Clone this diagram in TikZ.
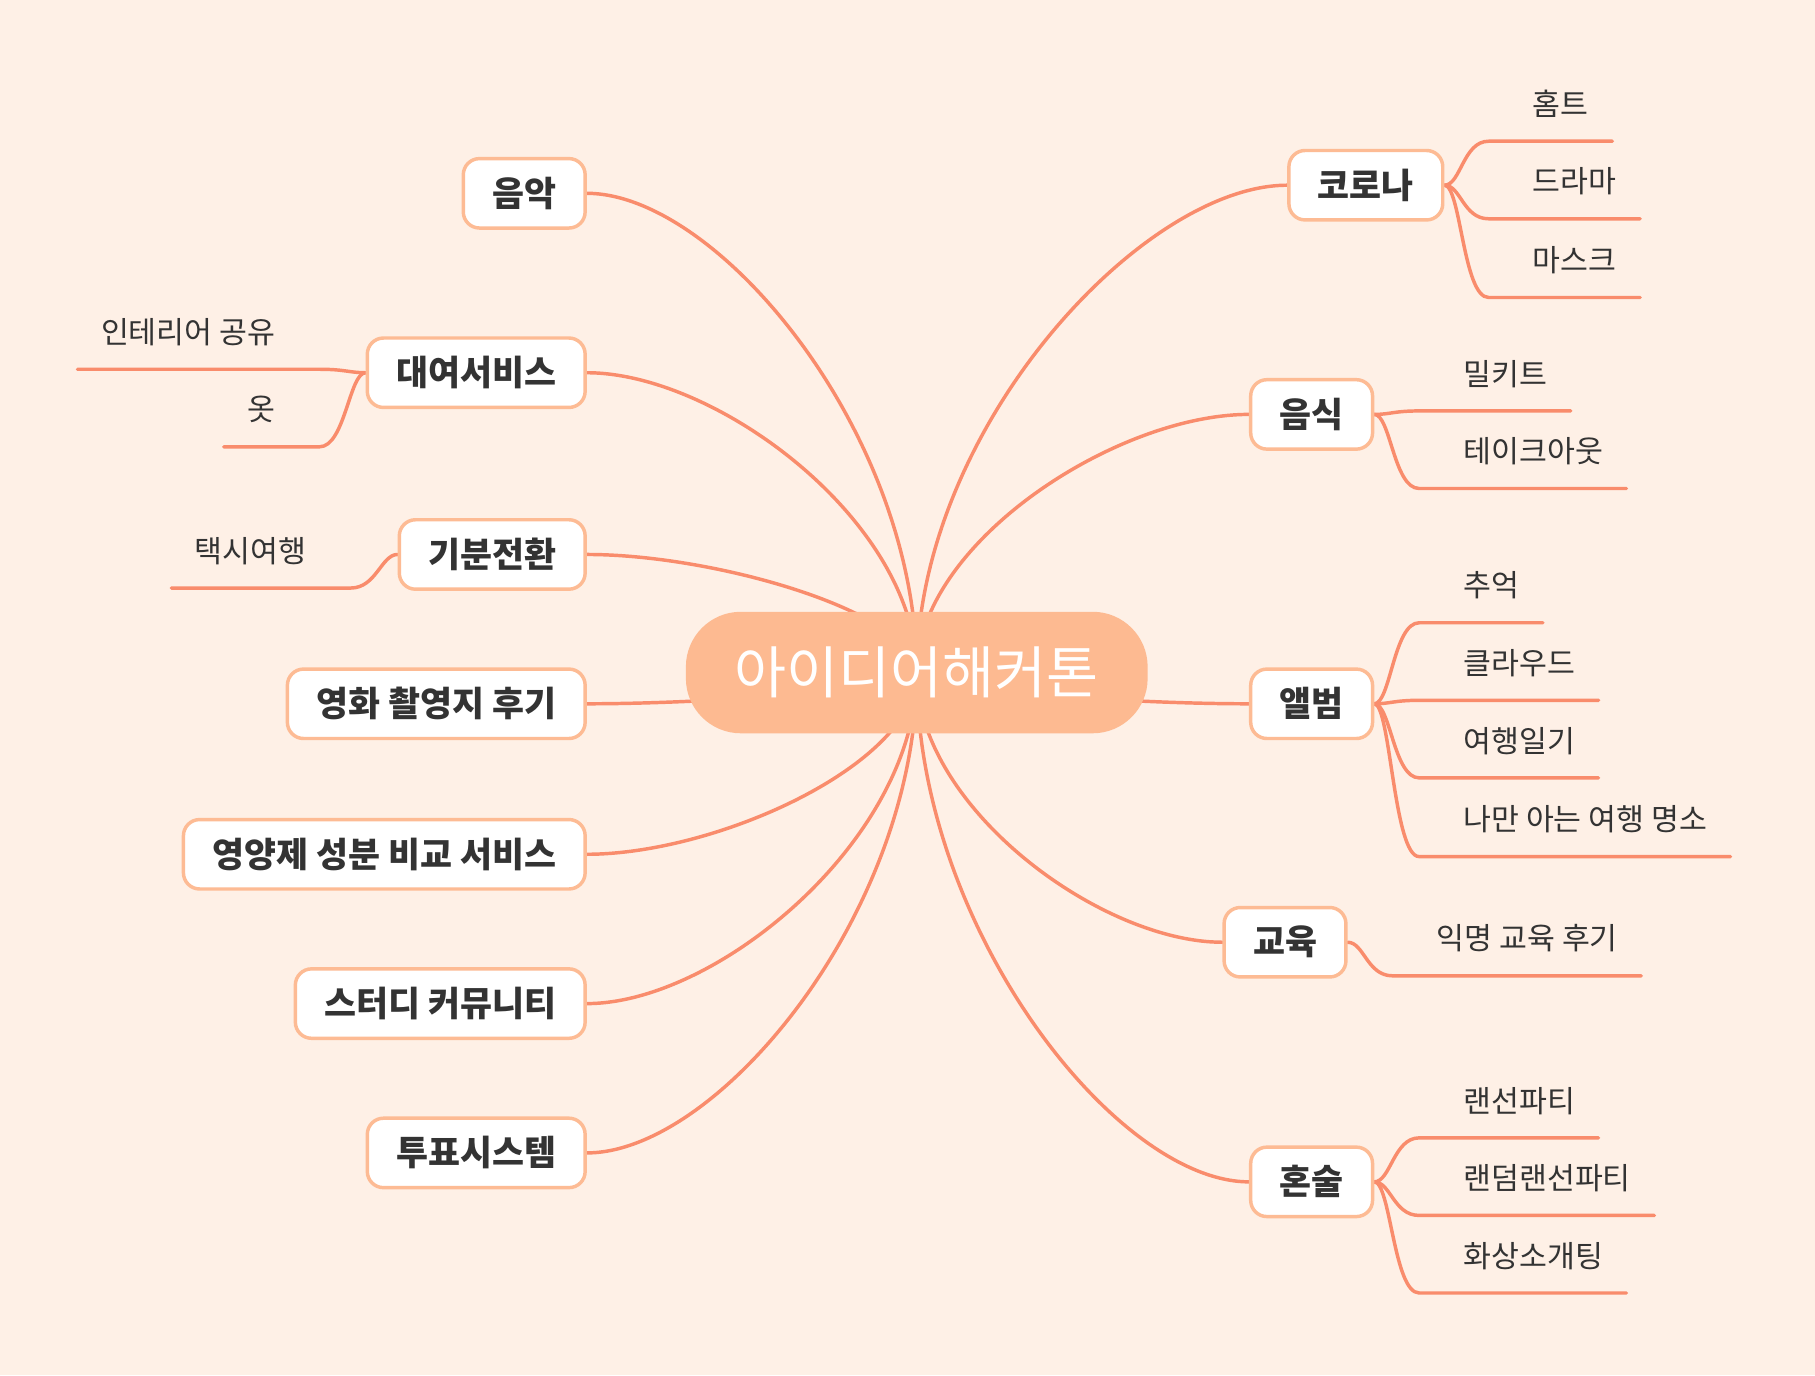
\documentclass[tikz,border=0pt]{standalone}
\usepackage{fontspec}
\newfontfamily\kr{Noto Sans CJK KR}
\usetikzlibrary{calc,backgrounds}
\definecolor{bgcream}{HTML}{FEF0E6}
\definecolor{salmon}{HTML}{F98C6C}
\definecolor{peachline}{HTML}{FDBB94}
\definecolor{hubfill}{HTML}{FDBA91}
\definecolor{inkgray}{HTML}{333333}
\tikzstyle{hub}   = [fill=hubfill, rounded corners=0.95cm, minimum width=7.98cm, minimum height=2.1cm, text=white, font=\kr\fontsize{27.8}{32}\selectfont]
\tikzstyle{topic} = [draw=peachline, line width=1.7pt, fill=white, rounded corners=0.28cm, minimum height=1.2cm, inner xsep=0.5cm, text=inkgray, font=\kr\bfseries\fontsize{17.1}{20}\selectfont]
\tikzstyle{leaf}  = [inner xsep=0.4cm, inner ysep=0.44cm, text height=0.8em, text depth=0pt, text=inkgray, font=\kr\fontsize{14.9}{18}\selectfont]
\tikzstyle{spoke} = [draw=salmon, line width=1.7pt, line cap=round]
\tikzstyle{twig}  = [draw=salmon, line width=1.7pt, line cap=round]

\begin{document}
\begin{tikzpicture}[x=0.02cm, y=-0.02cm]
	\begin{pgfonlayer}{background}
		\fill[bgcream] (0,0) rectangle (1568,1188);
	\end{pgfonlayer}
	\useasboundingbox (0,0) rectangle (1568,1188);

	\node[hub] (hub) at (792,581) {아이디어해커톤};

	% left topics
	\node[topic, anchor=east] (music) at (507,167) {음악};
	\node[topic, anchor=east] (rental) at (507,322) {대여서비스};
	\node[topic, anchor=east] (mood) at (507,479) {기분전환};
	\node[topic, anchor=east] (film) at (507,608) {영화 촬영지 후기};
	\node[topic, anchor=east] (supplement) at (507,738) {영양제 성분 비교 서비스};
	\node[topic, anchor=east] (study) at (507,867) {스터디 커뮤니티};
	\node[topic, anchor=east] (vote) at (507,996) {투표시스템};

	% right topics
	\node[topic, anchor=west] (corona) at (1112,160) {코로나};
	\node[topic, anchor=west] (food) at (1079,358) {음식};
	\node[topic, anchor=west] (album) at (1079,608) {앨범};
	\node[topic, anchor=west] (edu) at (1056,814) {교육};
	\node[topic, anchor=west] (solo) at (1079,1021) {혼술};

	% leaves
	\node[leaf, anchor=south east] (interior) at (258,319) {인테리어 공유};
	\node[leaf, anchor=south east] (clothes) at (258,386) {옷};
	\node[leaf, anchor=south east] (taxi) at (285,508) {택시여행};

	\node[leaf, anchor=south west] (homet) at (1304,122) {홈트};
	\node[leaf, anchor=south west] (drama) at (1304,189) {드라마};
	\node[leaf, anchor=south west] (mask) at (1304,257) {마스크};
	\node[leaf, anchor=south west] (mealkit) at (1244,355) {밀키트};
	\node[leaf, anchor=south west] (takeout) at (1244,422) {테이크아웃};
	\node[leaf, anchor=south west] (memory) at (1244,538) {추억};
	\node[leaf, anchor=south west] (cloud) at (1244,605) {클라우드};
	\node[leaf, anchor=south west] (diary) at (1244,672) {여행일기};
	\node[leaf, anchor=south west] (spot) at (1244,740) {나만 아는 여행 명소};
	\node[leaf, anchor=south west] (review) at (1221,843) {익명 교육 후기};
	\node[leaf, anchor=south west] (lanparty) at (1244,983) {랜선파티};
	\node[leaf, anchor=south west] (randparty) at (1244,1050) {랜덤랜선파티};
	\node[leaf, anchor=south west] (blind) at (1244,1117) {화상소개팅};

	\begin{pgfonlayer}{background}
		% hub to topics
		\draw[spoke] (music.east) .. controls +(113,0) and ($(hub.center)!0.5!(hub.center|-music.east)$) .. (hub.center);
		\draw[spoke] (rental.east) .. controls +(113,0) and ($(hub.center)!0.5!(hub.center|-rental.east)$) .. (hub.center);
		\draw[spoke] (mood.east) .. controls +(113,0) and ($(hub.center)!0.5!(hub.center|-mood.east)$) .. (hub.center);
		\draw[spoke] (film.east) .. controls +(113,0) and ($(hub.center)!0.5!(hub.center|-film.east)$) .. (hub.center);
		\draw[spoke] (supplement.east) .. controls +(113,0) and ($(hub.center)!0.5!(hub.center|-supplement.east)$) .. (hub.center);
		\draw[spoke] (study.east) .. controls +(113,0) and ($(hub.center)!0.5!(hub.center|-study.east)$) .. (hub.center);
		\draw[spoke] (vote.east) .. controls +(113,0) and ($(hub.center)!0.5!(hub.center|-vote.east)$) .. (hub.center);

		\draw[spoke] (corona.west) .. controls +(-125,0) and ($(hub.center)!0.5!(hub.center|-corona.west)$) .. (hub.center);
		\draw[spoke] (food.west) .. controls +(-115,0) and ($(hub.center)!0.5!(hub.center|-food.west)$) .. (hub.center);
		\draw[spoke] (album.west) .. controls +(-115,0) and ($(hub.center)!0.5!(hub.center|-album.west)$) .. (hub.center);
		\draw[spoke] (edu.west) .. controls +(-105,0) and ($(hub.center)!0.5!(hub.center|-edu.west)$) .. (hub.center);
		\draw[spoke] (solo.west) .. controls +(-115,0) and ($(hub.center)!0.5!(hub.center|-solo.west)$) .. (hub.center);

		% topics to leaves
		\draw[twig] (rental.west) .. controls +(-14,0) and +(22,0) .. ($(interior.south east)+(18,0)$) -- (interior.south west);
		\draw[twig] (rental.west) .. controls +(-14,0) and +(22,0) .. ($(clothes.south east)+(18,0)$) -- (clothes.south west);
		\draw[twig] (mood.west) .. controls +(-14,0) and +(22,0) .. ($(taxi.south east)+(18,0)$) -- (taxi.south west);

		\draw[twig] (corona.east) .. controls +(14,0) and +(-22,0) .. ($(homet.south west)+(-18,0)$) -- (homet.south east);
		\draw[twig] (corona.east) .. controls +(14,0) and +(-22,0) .. ($(drama.south west)+(-18,0)$) -- (drama.south east);
		\draw[twig] (corona.east) .. controls +(14,0) and +(-22,0) .. ($(mask.south west)+(-18,0)$) -- (mask.south east);
		\draw[twig] (food.east) .. controls +(14,0) and +(-22,0) .. ($(mealkit.south west)+(-18,0)$) -- (mealkit.south east);
		\draw[twig] (food.east) .. controls +(14,0) and +(-22,0) .. ($(takeout.south west)+(-18,0)$) -- (takeout.south east);
		\draw[twig] (album.east) .. controls +(14,0) and +(-22,0) .. ($(memory.south west)+(-18,0)$) -- (memory.south east);
		\draw[twig] (album.east) .. controls +(14,0) and +(-22,0) .. ($(cloud.south west)+(-18,0)$) -- (cloud.south east);
		\draw[twig] (album.east) .. controls +(14,0) and +(-22,0) .. ($(diary.south west)+(-18,0)$) -- (diary.south east);
		\draw[twig] (album.east) .. controls +(14,0) and +(-22,0) .. ($(spot.south west)+(-18,0)$) -- (spot.south east);
		\draw[twig] (edu.east) .. controls +(14,0) and +(-22,0) .. ($(review.south west)+(-18,0)$) -- (review.south east);
		\draw[twig] (solo.east) .. controls +(14,0) and +(-22,0) .. ($(lanparty.south west)+(-18,0)$) -- (lanparty.south east);
		\draw[twig] (solo.east) .. controls +(14,0) and +(-22,0) .. ($(randparty.south west)+(-18,0)$) -- (randparty.south east);
		\draw[twig] (solo.east) .. controls +(14,0) and +(-22,0) .. ($(blind.south west)+(-18,0)$) -- (blind.south east);
	\end{pgfonlayer}
\end{tikzpicture}
\end{document}
